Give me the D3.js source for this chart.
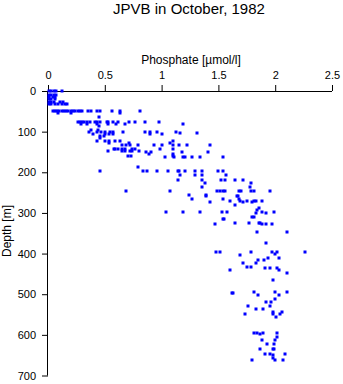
<!DOCTYPE html>
<html>
<head>
<meta charset="utf-8">
<script src="https://cdn.jsdelivr.net/npm/d3@7"></script>
<style>
  html, body { margin: 0; padding: 0; background: #fff; }
  svg { display: block; }
  text { font-family: "Liberation Sans", Arial, Helvetica, sans-serif; fill: #000; }
</style>
</head>
<body>
<svg id="chart" width="343" height="384"></svg>
<script>
const chartTitle = "JPVB in October, 1982";
const xLabel = "Phosphate [\u00b5mol/l]";
const yLabel = "Depth [m]";
const xTicks = [0, 0.5, 1, 1.5, 2, 2.5];
const yTicks = [0, 100, 200, 300, 400, 500, 600, 700];

// Samples grouped by depth [m]: [depth, [phosphate values µmol/l]]
const samples = [
  [0, [0.01, 0.03, 0.05, 0.07, 0.12]],
  [9, [0.01, 0.03, 0.05, 0.07]],
  [15, [0.01, 0.04, 0.06]],
  [20, [0.01, 0.03, 0.06]],
  [27, [0.01, 0.03, 0.05, 0.11, 0.13]],
  [32, [0.01, 0.03, 0.06, 0.09, 0.12, 0.15, 0.17]],
  [50, [0.04, 0.06, 0.08, 0.1, 0.12, 0.14, 0.16, 0.18, 0.2, 0.22, 0.24, 0.26, 0.28, 0.3, 0.35, 0.38, 0.43, 0.46, 0.56, 0.63, 0.81]],
  [53, [0.09, 0.2, 0.63]],
  [65, [0.45]],
  [76, [0.26, 0.28, 0.3, 0.32, 0.34, 0.37, 0.41, 0.43, 0.46, 0.52, 0.53, 0.57, 0.62, 0.71, 0.77, 0.85, 0.98]],
  [80, [0.29, 0.34, 0.43, 0.53, 0.6, 0.68, 1.19]],
  [87, [0.45]],
  [95, [0.38, 0.44]],
  [101, [0.36, 0.43, 0.47, 0.5, 0.55, 0.57, 0.66, 0.85, 0.9, 0.96, 1.13]],
  [104, [1.16, 1.31]],
  [106, [0.4, 0.5, 0.54, 0.57, 0.9, 1.0]],
  [110, [0.46, 0.49]],
  [115, [0.46]],
  [124, [0.43, 0.5, 0.54, 0.59, 0.63, 1.1]],
  [128, [0.54, 0.71, 1.07]],
  [133, [0.65, 0.69, 0.72, 0.93, 1.1]],
  [134, [0.79, 1.0, 1.15, 1.22, 1.43]],
  [142, [0.58, 0.59, 0.62, 0.65, 0.68, 0.74, 0.77, 0.99, 1.1]],
  [148, [0.53, 0.65, 0.68, 0.72, 0.74, 0.8]],
  [150, [0.86, 0.91, 1.18, 1.41]],
  [156, [0.89, 1.1]],
  [160, [0.7, 0.73, 1.1]],
  [162, [1.03, 1.11, 1.19, 1.21, 1.27, 1.34, 1.54]],
  [188, [0.79]],
  [198, [0.46, 0.84, 0.87, 0.96, 1.06, 1.14, 1.15, 1.21, 1.29, 1.36, 1.5, 1.54]],
  [206, [1.16, 1.29, 1.36, 1.57]],
  [218, [1.14, 1.36, 1.52, 1.56, 1.65, 1.72]],
  [227, [1.38, 1.79]],
  [235, [1.36, 1.78]],
  [247, [0.69, 1.07, 1.49, 1.51, 1.54, 1.56, 1.68, 1.7, 1.79, 1.81, 1.95]],
  [255, [1.24, 1.39]],
  [258, [1.39, 1.66, 1.67]],
  [265, [1.27, 1.54, 1.68]],
  [271, [1.6, 1.69, 1.75, 1.81, 1.83, 1.88]],
  [273, [1.43, 1.72, 1.8]],
  [280, [1.65]],
  [287, [1.86]],
  [292, [1.84]],
  [297, [1.04, 1.19, 1.34, 1.53, 1.58, 1.88, 1.99]],
  [301, [1.83, 1.92]],
  [310, [1.8, 1.81]],
  [315, [1.54, 1.55]],
  [324, [1.65, 1.77, 1.86, 1.87]],
  [328, [1.47, 1.88, 1.92, 1.97]],
  [347, [1.84, 2.1]],
  [375, [1.92]],
  [397, [1.48, 1.51, 1.79, 1.97, 2.02, 2.26]],
  [400, [2.0]],
  [403, [1.69]],
  [410, [1.94, 2.03]],
  [417, [1.85, 1.9]],
  [424, [1.72, 1.83]],
  [432, [1.75, 1.79]],
  [436, [1.91, 1.95, 2.02]],
  [441, [1.6, 2.03]],
  [448, [2.1]],
  [466, [1.98]],
  [495, [1.81, 2.0, 2.1]],
  [497, [1.62, 1.63]],
  [503, [1.85, 2.03]],
  [511, [2.0]],
  [519, [1.92, 1.96]],
  [528, [1.95]],
  [529, [1.76]],
  [537, [1.83, 1.89]],
  [543, [1.98, 2.06]],
  [548, [1.73, 1.98, 2.04]],
  [555, [2.01]],
  [596, [1.81, 1.84, 1.89, 2.02]],
  [599, [1.87]],
  [605, [2.02]],
  [612, [1.88, 2.0]],
  [622, [1.93, 1.99]],
  [635, [1.87, 1.98, 1.99]],
  [646, [1.91, 1.95, 2.09]],
  [650, [1.98]],
  [656, [1.98]],
  [661, [1.8, 2.0, 2.07]]
];

const points = [];
samples.forEach(([d, vals]) => vals.forEach(v => points.push({ depth: d, value: v })));

const svg = d3.select("#chart");
const plotLeft = 48, plotRight = 332, plotTop = 91, plotBottom = 375.5;

const x = d3.scaleLinear().domain([0, 2.5]).range([plotLeft, plotRight]);
const y = d3.scaleLinear().domain([0, 700]).range([plotTop, plotBottom]);

svg.append("text")
  .attr("x", 189).attr("y", 14)
  .attr("text-anchor", "middle")
  .style("font-size", "15px")
  .text(chartTitle);

const xAxis = d3.axisTop(x).tickValues(xTicks).tickSize(6).tickPadding(6)
  .tickFormat(d => d3.format("")(d));
const gx = svg.append("g").attr("transform", `translate(0,${plotTop})`).call(xAxis);
gx.select(".domain").attr("d", `M${plotLeft},0.5H${plotRight}`).attr("stroke", "#000");
gx.selectAll("text").style("font-size", "11px").style("font-family", "Liberation Sans, Arial, sans-serif");

const yAxis = d3.axisLeft(y).tickValues(yTicks).tickSize(6).tickPadding(6);
const gy = svg.append("g").attr("transform", `translate(${plotLeft},0)`).call(yAxis);
gy.select(".domain").attr("d", `M-0.5,${plotTop}V${plotBottom}`).attr("stroke", "#000");
gy.selectAll("text").style("font-size", "11px").style("font-family", "Liberation Sans, Arial, sans-serif");

svg.append("text")
  .attr("x", 191).attr("y", 64)
  .attr("text-anchor", "middle")
  .style("font-size", "12px")
  .text(xLabel);

svg.append("text")
  .attr("transform", `translate(11,231) rotate(-90)`)
  .attr("text-anchor", "middle")
  .style("font-size", "12px")
  .text(yLabel);

svg.append("g").selectAll("rect")
  .data(points)
  .join("rect")
  .attr("x", d => Math.round(x(d.value)) - 1.5)
  .attr("y", d => Math.round(y(d.depth)) - 1.5)
  .attr("width", 3)
  .attr("height", 3)
  .attr("fill", "#0000ff");
</script>
</body>
</html>
